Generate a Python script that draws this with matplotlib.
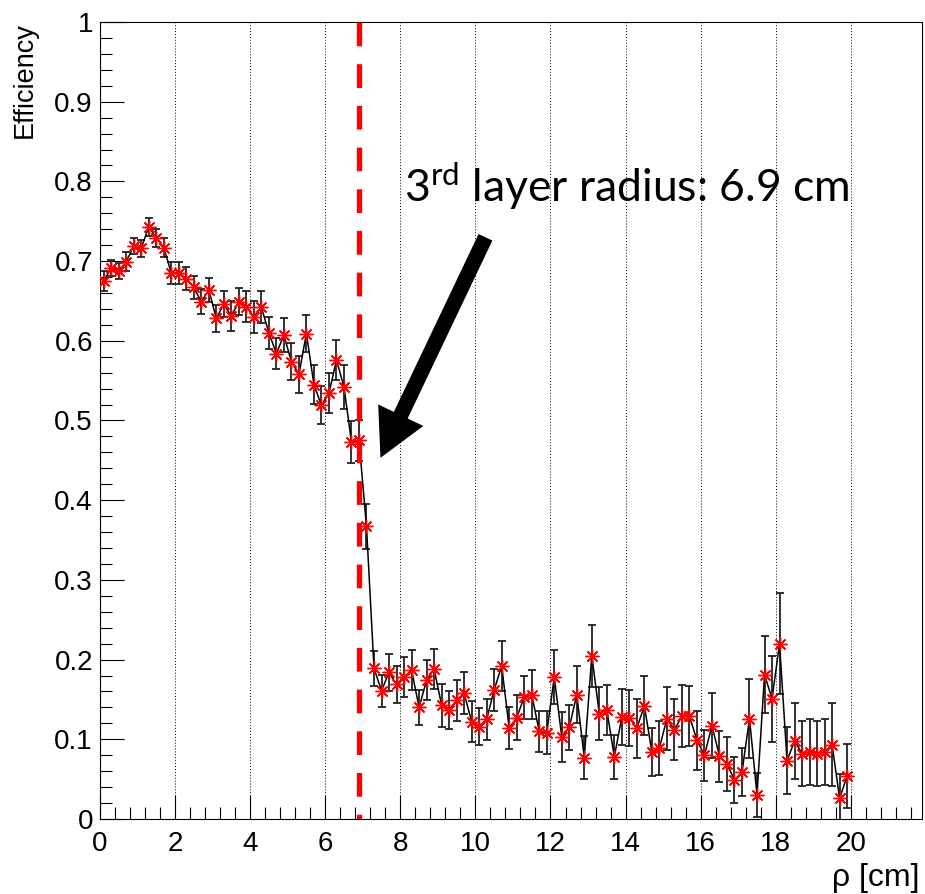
import numpy as np
import matplotlib
matplotlib.use('Agg')
import matplotlib.pyplot as plt
from matplotlib.ticker import MultipleLocator

# efficiency vs rho, bins of 0.2 cm from 0 to 20 cm
rho = np.arange(100) * 0.2 + 0.1

eff = [0.675, 0.691, 0.688, 0.699, 0.719, 0.716, 0.743, 0.729, 0.717, 0.685,
       0.685, 0.678, 0.667, 0.649, 0.664, 0.628, 0.646, 0.631, 0.649, 0.643,
       0.630, 0.642, 0.610, 0.584, 0.607, 0.574, 0.558, 0.609, 0.545, 0.519,
       0.534, 0.576, 0.542, 0.473, 0.475, 0.367, 0.189, 0.161, 0.184, 0.169,
       0.178, 0.187, 0.140, 0.174, 0.188, 0.143, 0.137, 0.149, 0.158, 0.122,
       0.116, 0.125, 0.162, 0.192, 0.114, 0.127, 0.153, 0.156, 0.110, 0.108,
       0.178, 0.103, 0.115, 0.156, 0.077, 0.205, 0.132, 0.137, 0.078, 0.128,
       0.127, 0.114, 0.142, 0.084, 0.089, 0.126, 0.112, 0.129, 0.129, 0.099,
       0.080, 0.117, 0.079, 0.069, 0.049, 0.059, 0.126, 0.030, 0.181, 0.151,
       0.220, 0.073, 0.098, 0.082, 0.084, 0.082, 0.084, 0.093, 0.026, 0.054]

err = [0.013, 0.010, 0.010, 0.012, 0.010, 0.011, 0.011, 0.011, 0.012, 0.014,
       0.014, 0.014, 0.014, 0.016, 0.015, 0.017, 0.016, 0.019, 0.017, 0.019,
       0.020, 0.020, 0.020, 0.020, 0.021, 0.023, 0.023, 0.023, 0.024, 0.024,
       0.025, 0.025, 0.027, 0.026, 0.026, 0.028, 0.022, 0.020, 0.023, 0.023,
       0.025, 0.025, 0.022, 0.025, 0.025, 0.027, 0.024, 0.026, 0.026, 0.026,
       0.023, 0.026, 0.026, 0.031, 0.026, 0.028, 0.027, 0.031, 0.026, 0.027,
       0.034, 0.031, 0.028, 0.036, 0.027, 0.039, 0.033, 0.031, 0.028, 0.035,
       0.035, 0.037, 0.037, 0.030, 0.034, 0.040, 0.038, 0.039, 0.038, 0.037,
       0.032, 0.041, 0.032, 0.034, 0.029, 0.030, 0.050, 0.028, 0.048, 0.054,
       0.063, 0.042, 0.048, 0.041, 0.041, 0.041, 0.041, 0.052, 0.030, 0.040]

layer_radius = 6.9
xticks = np.arange(0, 21, 2)
yticks = np.arange(0, 1.01, 0.1)

plt.rcParams['font.family'] = 'Liberation Sans'
plt.rcParams['mathtext.fontset'] = 'custom'
plt.rcParams['mathtext.rm'] = 'Lato'

fig = plt.figure(figsize=(9.25, 8.94), dpi=100)
ax = fig.add_axes([0.108, 0.0839, 0.889, 0.8915])

# grid on x only, like ROOT gridx
for xg in xticks[1:]:
    ax.axvline(xg, color='k', lw=0.7, ls=(0, (1, 2)), zorder=1)

ax.errorbar(rho, eff, yerr=err, fmt='none', ecolor='#222222', elinewidth=1.3,
            capsize=3, capthick=1.3, zorder=2)
ax.plot(rho, eff, color='k', lw=1.1, zorder=3)
ax.plot(rho, eff, ls='none', marker=(8, 2, 0), ms=10, mec='red', mew=1.0,
        zorder=4)

ax.plot([layer_radius, layer_radius], [1, 0], color='red', lw=3.8,
        ls=(0, (4.5, 3.4)), zorder=5)

ax.annotate('', xy=(7.44, 0.45), xytext=(10.3, 0.733),
            arrowprops=dict(arrowstyle='simple,head_width=1.8,head_length=1.7,tail_width=0.55',
                            mutation_scale=20, color='k', lw=0),
            zorder=6)
ax.text(8.1, 0.774, r'3$^{\mathrm{rd}}$ layer radius: 6.9 cm', fontsize=32,
        family='Lato', ha='left', va='baseline', zorder=6)

ax.set_xlim(0, 21.9)
ax.set_ylim(0, 1)
ax.set_xticks(xticks)
ax.set_yticks(yticks)
ax.set_yticklabels(['%g' % round(v, 1) for v in yticks])
ax.xaxis.set_minor_locator(MultipleLocator(0.4))
ax.yaxis.set_minor_locator(MultipleLocator(0.02))
ax.tick_params(which='both', direction='in', top=False, right=False,
               labelsize=20, width=0.8)
ax.tick_params(which='major', length=17)
ax.tick_params(which='minor', length=8.5)
ax.tick_params(axis='y', pad=5)
ax.tick_params(axis='x', pad=9)
for s in ax.spines.values():
    s.set_linewidth(0.8)

fig.text(25 / 925, 1 - 22 / 894, 'Efficiency', rotation=90, ha='center',
         va='top', fontsize=19.5)
fig.text(920 / 925, 1 - 878 / 894, r'ρ [cm]', ha='right', va='center',
         fontsize=23)

fig.savefig('out.png', dpi=100)
